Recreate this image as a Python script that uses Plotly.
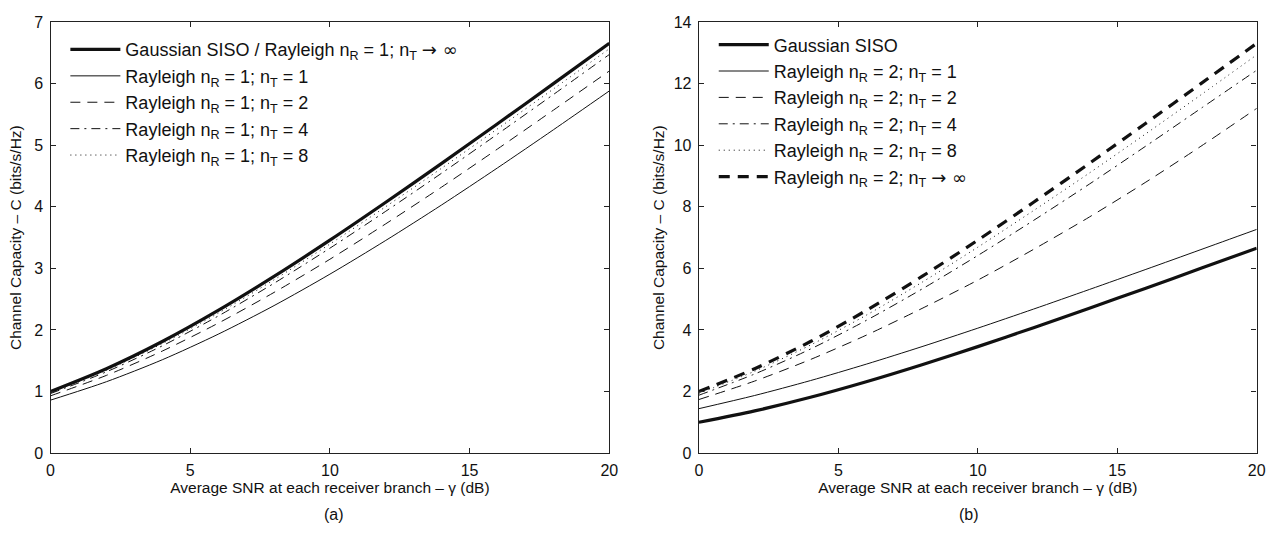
import plotly.graph_objects as go

snr_db = [0, 2, 4, 6, 8, 10, 12, 14, 16, 18, 20]

# Panel (a): n_R = 1
gauss_siso = [1.000, 1.370, 1.812, 2.317, 2.870, 3.459, 4.075, 4.707, 5.351, 6.002, 6.658]
r1_t1 = [0.860, 1.159, 1.516, 1.931, 2.396, 2.907, 3.455, 4.032, 4.634, 5.253, 5.884]
r1_t2 = [0.930, 1.262, 1.657, 2.110, 2.610, 3.149, 3.725, 4.322, 4.941, 5.572, 6.208]
r1_t4 = [0.967, 1.320, 1.742, 2.226, 2.759, 3.329, 3.929, 4.548, 5.183, 5.826, 6.476]
r1_t8 = [0.984, 1.346, 1.778, 2.273, 2.815, 3.396, 4.004, 4.629, 5.269, 5.916, 6.569]

# Panel (b): n_R = 2
r2_t1 = [1.443, 1.871, 2.355, 2.889, 3.459, 4.059, 4.679, 5.315, 5.960, 6.612, 7.268]
r2_t2 = [1.74, 2.34, 3.04, 3.83, 4.70, 5.62, 6.62, 7.67, 8.79, 9.97, 11.20]
r2_t4 = [1.88, 2.57, 3.38, 4.31, 5.33, 6.42, 7.56, 8.74, 9.96, 11.20, 12.44]
r2_t8 = [1.94, 2.66, 3.51, 4.48, 5.55, 6.69, 7.88, 9.10, 10.36, 11.64, 12.94]
r2_tinf = [2.000, 2.740, 3.624, 4.634, 5.740, 6.918, 8.150, 9.414, 10.702, 12.004, 13.316]

x_ticks = [0, 5, 10, 15, 20]
ya_ticks = [0, 1, 2, 3, 4, 5, 6, 7]
yb_ticks = [0, 2, 4, 6, 8, 10, 12, 14]

FONT = "Liberation Sans, Arial, Helvetica, sans-serif"
BLACK = "#111111"

ARROW = '<span style="font-family:DejaVu Sans">→ ∞</span>'

def lab(nr, nt):
    return "Rayleigh n<sub>R</sub> = %s; n<sub>T</sub> %s" % (nr, nt)

fig = go.Figure()
_count = [0]

def add(x, y, name, width, dash, xa, ya, legend):
    _count[0] += 1
    fig.add_trace(go.Scatter(
        x=x, y=y, name=name, mode="lines", xaxis=xa, yaxis=ya, legend=legend,
        legendgroup="g%d" % _count[0],
        line=dict(color=BLACK, width=width, dash=dash, shape="spline", smoothing=0.8),
    ))

add(snr_db, gauss_siso, "Gaussian SISO / " + lab(1, ARROW), 3.2, "solid", "x", "y", "legend")
add(snr_db, r1_t1, lab(1, "= 1"), 1, "solid", "x", "y", "legend")
add(snr_db, r1_t2, lab(1, "= 2"), 1, "10px,7px", "x", "y", "legend")
add(snr_db, r1_t4, lab(1, "= 4"), 1, "9px,5px,2px,5px", "x", "y", "legend")
add(snr_db, r1_t8, lab(1, "= 8"), 1, "1px,4px", "x", "y", "legend")

add(snr_db, gauss_siso, "Gaussian SISO", 3.2, "solid", "x2", "y2", "legend2")
add(snr_db, r2_t1, lab(2, "= 1"), 1, "solid", "x2", "y2", "legend2")
add(snr_db, r2_t2, lab(2, "= 2"), 1, "10px,7px", "x2", "y2", "legend2")
add(snr_db, r2_t4, lab(2, "= 4"), 1, "9px,5px,2px,5px", "x2", "y2", "legend2")
add(snr_db, r2_t8, lab(2, "= 8"), 1, "1px,4px", "x2", "y2", "legend2")
add(snr_db, r2_tinf, lab(2, ARROW), 3.2, "11px,8px", "x2", "y2", "legend2")

W, H = 1285, 541
def px_x(p): return p / W
def px_y(p): return 1 - p / H

axis_common = dict(
    showline=True, linecolor="#222222", linewidth=1.4, mirror="ticks",
    ticks="inside", ticklen=5, tickwidth=1, tickcolor="#222222",
    showgrid=False, zeroline=False, ticklabelstandoff=3,
    tickfont=dict(family=FONT, size=16, color="#111111"),
)

ydom = [px_y(459.5), px_y(14.7)]
title_font = dict(family=FONT, size=15.5, color="#111111")
xtitle = "Average SNR at each receiver branch – γ (dB)"
ytitle = "Channel Capacity – C (bits/s/Hz)"
leg_font = dict(family=FONT, size=18, color="#111111")

fig.update_layout(
    width=W, height=H,
    margin=dict(l=0, r=0, t=0, b=0),
    paper_bgcolor="white", plot_bgcolor="white",
    font=dict(family=FONT, size=14, color="#111111"),
    xaxis=dict(domain=[px_x(47), px_x(611.5)], range=[0, 20], tickvals=x_ticks,
               title=dict(text=xtitle, font=title_font, standoff=2), anchor="y", **axis_common),
    yaxis=dict(domain=ydom, range=[0, 7], tickvals=ya_ticks,
               title=dict(text=ytitle, font=title_font, standoff=8), anchor="x", **axis_common),
    xaxis2=dict(domain=[px_x(702), px_x(1265.5)], range=[0, 20], tickvals=x_ticks,
                title=dict(text=xtitle, font=title_font, standoff=2), anchor="y2", **axis_common),
    yaxis2=dict(domain=ydom, range=[0, 14], tickvals=yb_ticks,
                title=dict(text=ytitle, font=title_font, standoff=5), anchor="x2", **axis_common),
    legend=dict(x=px_x(62), y=px_y(24), xanchor="left", yanchor="top",
                bgcolor="rgba(0,0,0,0)", font=leg_font,
                itemwidth=50, tracegroupgap=0),
    legend2=dict(x=px_x(717), y=px_y(19), xanchor="left", yanchor="top",
                 bgcolor="rgba(0,0,0,0)", font=leg_font,
                 itemwidth=50, tracegroupgap=0),
    annotations=[
        dict(text="(a)", x=px_x(333), y=px_y(523), xref="paper", yref="paper",
             xanchor="center", yanchor="middle",
             showarrow=False, font=dict(family=FONT, size=16, color="#111111")),
        dict(text="(b)", x=px_x(975), y=px_y(523), xref="paper", yref="paper",
             xanchor="center", yanchor="middle",
             showarrow=False, font=dict(family=FONT, size=16, color="#111111")),
    ],
)

fig.write_html("out.html", config={"displayModeBar": False},
               post_script="document.body.style.margin='0';document.body.style.overflow='hidden';document.documentElement.style.overflow='hidden';")
